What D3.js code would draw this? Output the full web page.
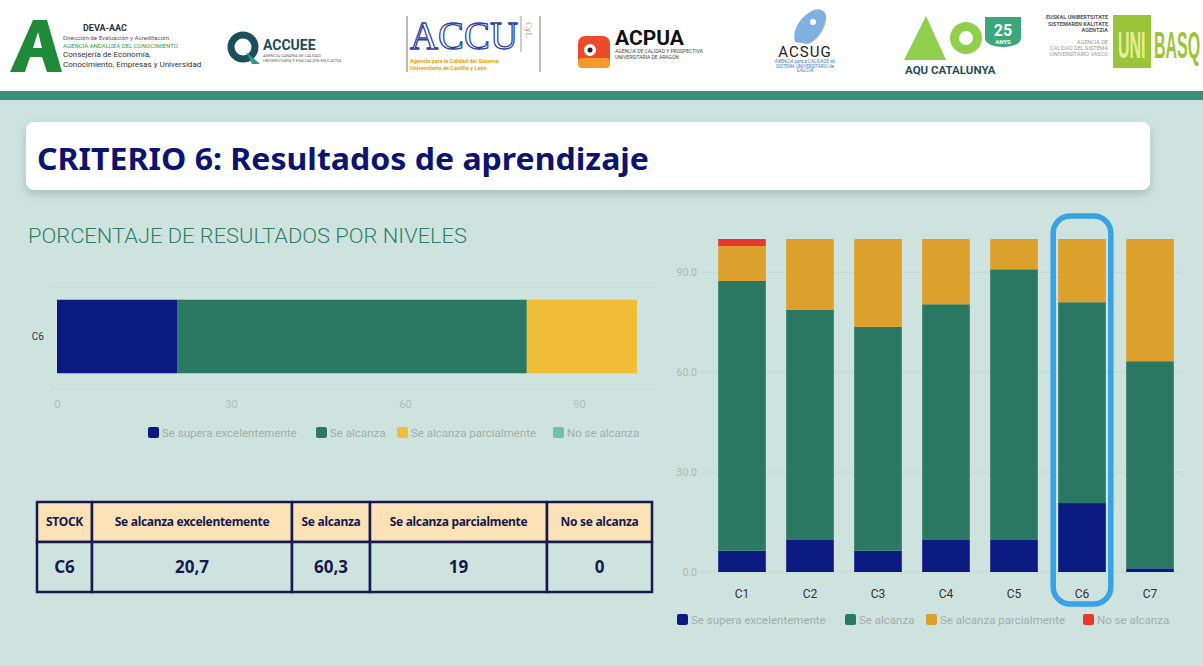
<!DOCTYPE html>
<html>
<head>
<meta charset="utf-8">
<script src="https://cdn.jsdelivr.net/npm/d3@7"></script>
<style>
  body { margin: 0; background: #cfe3de; }
  svg { display: block; font-family: Roboto, "Noto Sans", sans-serif; }
</style>
</head>
<body>
<svg id="chart" width="1203" height="666"></svg>
<script>
// datos
const criterios = ["C1", "C2", "C3", "C4", "C5", "C6", "C7"];
const superaExc = [6.4, 9.8, 6.4, 9.8, 9.8, 20.7, 1.1];
const seAlcanza = [81.0, 69.0, 67.2, 70.6, 81.1, 60.3, 62.2];
const parcial = [10.5, 21.2, 26.4, 19.6, 9.1, 19.0, 36.7];
const noAlcanza = [2.1, 0, 0, 0, 0, 0, 0];
const niveles = ["Se supera excelentemente", "Se alcanza", "Se alcanza parcialmente", "No se alcanza"];
const ticksIzq = [0, 30, 60, 90];
const ticksDer = [0, 30, 60, 90];
const tablaCabecera = ["STOCK", "Se alcanza excelentemente", "Se alcanza", "Se alcanza parcialmente", "No se alcanza"];
const tablaFila = ["C6", "20,7", "60,3", "19", "0"];
const destacado = "C6";

const keys = ["exc", "alc", "par", "no"];
const coloresIzq = ["#0b1a80", "#2a7862", "#f0bd37", "#6cc4a4"];
const coloresDer = ["#0b1a80", "#2a7862", "#dca02c", "#e8372f"];

const rows = criterios.map((c, i) => ({
  c: c, exc: superaExc[i], alc: seAlcanza[i], par: parcial[i], no: noAlcanza[i]
}));

const svg = d3.select("#chart");

// ---------- cabecera con logos ----------
svg.append("rect").attr("width", 1203).attr("height", 91).attr("fill", "#fff");
svg.append("rect").attr("y", 91).attr("width", 1203).attr("height", 9).attr("fill", "#3a8f78");

const hdr = svg.append("g");
// DEVA-AAC
hdr.append("path").attr("d", "M10,72 L33,20 L47,20 L62,72 L47,72 L42,57 L30,57 L25,72 Z").attr("fill", "#1f8a3a");
hdr.append("path").attr("d", "M33,48 L38,32 L42,48 Z").attr("fill", "#fff");
hdr.append("text").attr("x", 105).attr("y", 31).attr("text-anchor", "middle")
  .attr("font-size", 9).attr("font-weight", "bold").attr("fill", "#333").text("DEVA-AAC");
[["Dirección de Evaluación y Acreditación", "#555", 6.2, 40],
 ["AGENCIA ANDALUZA DEL CONOCIMIENTO", "#2e9a48", 6, 48],
 ["Consejería de Economía,", "#333", 8, 57],
 ["Conocimiento, Empresas y Universidad", "#333", 8, 67]].forEach(t => {
  hdr.append("text").attr("x", 63).attr("y", t[3]).attr("font-size", t[2])
    .attr("fill", t[1]).text(t[0]);
});
// ACCUEE
hdr.append("circle").attr("cx", 243).attr("cy", 47).attr("r", 12)
  .attr("fill", "none").attr("stroke", "#1c4e5c").attr("stroke-width", 7);
hdr.append("path").attr("d", "M246,52 L260,64 L252,64 Z").attr("fill", "#2b9a7e");
hdr.append("text").attr("x", 263).attr("y", 50).attr("font-size", 14).attr("font-weight", "bold")
  .attr("fill", "#1c4e5c").text("ACCUEE");
hdr.append("text").attr("x", 263).attr("y", 57).attr("font-size", 4).attr("fill", "#666")
  .text("AGENCIA CANARIA DE CALIDAD");
hdr.append("text").attr("x", 263).attr("y", 62).attr("font-size", 4).attr("fill", "#666")
  .text("UNIVERSITARIA Y EVALUACIÓN EDUCATIVA");
// ACCU
hdr.append("line").attr("x1", 407).attr("x2", 407).attr("y1", 16).attr("y2", 72).attr("stroke", "#777");
hdr.append("line").attr("x1", 540).attr("x2", 540).attr("y1", 16).attr("y2", 72).attr("stroke", "#777");
hdr.append("line").attr("x1", 521).attr("x2", 521).attr("y1", 16).attr("y2", 52).attr("stroke", "#999");
hdr.append("text").attr("x", 410).attr("y", 49).attr("font-size", 40).attr("font-family", "Liberation Serif")
  .attr("fill", "none").attr("stroke", "#2d3f9e").attr("stroke-width", 1.3).attr("textLength", 108)
  .attr("lengthAdjust", "spacingAndGlyphs").text("ACCU");
hdr.append("text").attr("transform", "translate(526,22) rotate(90)").attr("font-size", 9)
  .attr("font-family", "Liberation Serif").attr("fill", "#b59a2a").text("CyL");
hdr.append("text").attr("x", 410).attr("y", 63).attr("font-size", 5.5).attr("font-weight", "bold")
  .attr("fill", "#e5a400").text("Agencia para la Calidad del Sistema");
hdr.append("text").attr("x", 410).attr("y", 70).attr("font-size", 5.5).attr("font-weight", "bold")
  .attr("fill", "#e5a400").text("Universitario de Castilla y León");
// ACPUA
hdr.append("rect").attr("x", 578).attr("y", 36).attr("width", 32).attr("height", 32).attr("rx", 7).attr("fill", "#ec4a2c");
hdr.append("rect").attr("x", 578).attr("y", 58).attr("width", 32).attr("height", 10).attr("rx", 4).attr("fill", "#f59a2a");
hdr.append("circle").attr("cx", 590).attr("cy", 50).attr("r", 6).attr("fill", "#fff");
hdr.append("circle").attr("cx", 590).attr("cy", 50).attr("r", 2.5).attr("fill", "#222");
hdr.append("text").attr("x", 615).attr("y", 45).attr("font-size", 21).attr("font-weight", "bold")
  .attr("fill", "#111").text("ACPUA");
hdr.append("text").attr("x", 615).attr("y", 53).attr("font-size", 5).attr("fill", "#444")
  .text("AGENCIA DE CALIDAD Y PROSPECTIVA");
hdr.append("text").attr("x", 615).attr("y", 59).attr("font-size", 5).attr("fill", "#444")
  .text("UNIVERSITARIA DE ARAGÓN");
// ACSUG
hdr.append("path").attr("d", "M795,42 C792,30 800,18 810,12 C818,6 828,10 826,20 C824,30 818,40 808,44 Z")
  .attr("fill", "#7fb0e0");
hdr.append("circle").attr("cx", 813).attr("cy", 22).attr("r", 3).attr("fill", "#fff");
hdr.append("text").attr("x", 805).attr("y", 57).attr("text-anchor", "middle").attr("font-size", 15)
  .attr("fill", "#222").attr("letter-spacing", 1).text("ACSUG");
["AXENCIA para a CALIDADE do", "SISTEMA UNIVERSITARIO de", "GALICIA"].forEach((t, i) => {
  hdr.append("text").attr("x", 805).attr("y", 63 + i * 4.5).attr("text-anchor", "middle")
    .attr("font-size", 4.5).attr("fill", "#3a7bd0").text(t);
});
// AQU Catalunya
hdr.append("path").attr("d", "M904,60 L926,16 L946,60 Z").attr("fill", "#8fcf4c");
hdr.append("circle").attr("cx", 966).attr("cy", 38).attr("r", 16).attr("fill", "#8fcf4c");
hdr.append("circle").attr("cx", 966).attr("cy", 38).attr("r", 7).attr("fill", "#fff");
hdr.append("path").attr("d", "M985,17 L1021,17 L1021,38 C1021,50 985,50 985,38 Z").attr("fill", "#3aa87a");
hdr.append("text").attr("x", 1003).attr("y", 36).attr("text-anchor", "middle").attr("font-size", 16)
  .attr("font-weight", "bold").attr("fill", "#fff").text("25");
hdr.append("text").attr("x", 1003).attr("y", 44).attr("text-anchor", "middle").attr("font-size", 6)
  .attr("font-weight", "bold").attr("fill", "#fff").text("ANYS");
hdr.append("text").attr("x", 905).attr("y", 74).attr("font-size", 11.5).attr("font-weight", "bold")
  .attr("fill", "#1f4f5a").text("AQU CATALUNYA");
// Unibasq
["EUSKAL UNIBERTSITATE", "SISTEMAREN KALITATE", "AGENTZIA"].forEach((t, i) => {
  hdr.append("text").attr("x", 1108).attr("y", 19 + i * 6.5).attr("text-anchor", "end")
    .attr("font-size", 5.5).attr("font-weight", "bold").attr("fill", "#555").text(t);
});
["AGENCIA DE", "CALIDAD DEL SISTEMA", "UNIVERSITARIO VASCO"].forEach((t, i) => {
  hdr.append("text").attr("x", 1108).attr("y", 44 + i * 6).attr("text-anchor", "end")
    .attr("font-size", 5.5).attr("fill", "#999").text(t);
});
hdr.append("rect").attr("x", 1113).attr("y", 15).attr("width", 38).attr("height", 53).attr("fill", "#9cc43a");
hdr.append("text").attr("transform", "translate(1118,58) scale(1,2.3)").attr("font-size", 16)
  .attr("font-weight", "bold").attr("font-family", "Liberation Sans").attr("fill", "#e4f08f").text("UNI");
hdr.append("text").attr("transform", "translate(1154,58) scale(1,2.3)").attr("font-size", 16)
  .attr("font-weight", "bold").attr("font-family", "Liberation Sans").attr("fill", "#9cc43a").text("BASQ");

// ---------- título ----------
const defs = svg.append("defs");
const f = defs.append("filter").attr("id", "sombra").attr("x", "-5%").attr("y", "-30%")
  .attr("width", "110%").attr("height", "170%");
f.append("feDropShadow").attr("dx", 0).attr("dy", 4).attr("stdDeviation", 5)
  .attr("flood-color", "#557a70").attr("flood-opacity", 0.35);
svg.append("rect").attr("x", 26).attr("y", 122).attr("width", 1124).attr("height", 68)
  .attr("rx", 8).attr("fill", "#fff").attr("filter", "url(#sombra)");
svg.append("text").attr("x", 37).attr("y", 170).attr("font-family", "'Noto Sans', sans-serif")
  .attr("font-size", 30).attr("font-weight", "bold").attr("fill", "#0d1470")
  .attr("textLength", 612).attr("lengthAdjust", "spacingAndGlyphs")
  .text("CRITERIO 6: Resultados de aprendizaje");

// ---------- gráfico horizontal (izquierda) ----------
svg.append("text").attr("x", 28).attr("y", 243).attr("font-size", 21).attr("font-weight", 300)
  .attr("fill", "#2f7f68").attr("textLength", 439).attr("lengthAdjust", "spacingAndGlyphs")
  .text("PORCENTAJE DE RESULTADOS POR NIVELES");

const idx = criterios.indexOf(destacado);
const filaIzq = [rows[idx]];
const xIzq = d3.scaleLinear().domain([0, 100]).range([57, 637]);
const yIzq = d3.scaleBand().domain(filaIzq.map(d => d.c)).range([287, 386]).paddingInner(0.25).paddingOuter(0.13);

const gIzq = svg.append("g");
[287, 389].forEach(y => {
  gIzq.append("line").attr("x1", 50).attr("x2", 655).attr("y1", y).attr("y2", y)
    .attr("stroke", "#c5dbd5").attr("stroke-width", 1);
});
const stackIzq = d3.stack().keys(keys)(filaIzq);
gIzq.selectAll(".capa").data(stackIzq).join("g").attr("fill", (d, i) => coloresIzq[i])
  .selectAll("rect").data(d => d).join("rect")
  .attr("x", d => xIzq(d[0]))
  .attr("width", d => xIzq(d[1]) - xIzq(d[0]))
  .attr("y", d => yIzq(d.data.c))
  .attr("height", yIzq.bandwidth());

const axIzqX = gIzq.append("g").attr("transform", "translate(0,395)")
  .call(d3.axisBottom(xIzq).tickValues(ticksIzq).tickSize(0).tickPadding(5));
axIzqX.select(".domain").remove();
axIzqX.selectAll("text").attr("font-size", 11).attr("fill", "#b0bcb8").attr("font-family", "Roboto");

const axIzqY = gIzq.append("g").attr("transform", "translate(44,0)")
  .call(d3.axisLeft(yIzq).tickSize(0).tickPadding(0));
axIzqY.select(".domain").remove();
axIzqY.selectAll("text").attr("font-size", 10).attr("fill", "#333").attr("font-family", "Roboto");

function leyenda(g, x0, y, colores, anchos) {
  let x = x0;
  niveles.forEach((n, i) => {
    g.append("rect").attr("x", x).attr("y", y - 6).attr("width", 11).attr("height", 11)
      .attr("rx", 2).attr("fill", colores[i]);
    g.append("text").attr("x", x + 14).attr("y", y + 4).attr("font-size", 11.5)
      .attr("fill", "#a2aeaa").text(n);
    x += anchos[i];
  });
}
leyenda(gIzq, 148, 433, coloresIzq, [168, 81, 156, 0]);

// ---------- tabla ----------
const colX = [37, 92, 292, 370, 547, 652];
const gTab = svg.append("g");
const filaY = [[502, 542], [542, 592]];
[tablaCabecera, tablaFila].forEach((fila, r) => {
  fila.forEach((t, c) => {
    const x0 = colX[c], x1 = colX[c + 1];
    const y0 = filaY[r][0], y1 = filaY[r][1];
    gTab.append("rect").attr("x", x0).attr("y", y0).attr("width", x1 - x0).attr("height", y1 - y0)
      .attr("fill", r === 0 ? "#fbe2b6" : "#cfe3de").attr("stroke", "#141a4f").attr("stroke-width", 2.5);
    gTab.append("text").attr("x", (x0 + x1) / 2).attr("y", (y0 + y1) / 2)
      .attr("text-anchor", "middle").attr("dy", "0.36em")
      .attr("font-family", "'Noto Sans', sans-serif").attr("font-weight", "bold")
      .attr("font-size", r === 0 ? 12 : 17).attr("fill", "#141a4f")
      .attr("letter-spacing", r === 0 ? -0.3 : 0).text(t);
  });
});

// ---------- gráfico de columnas (derecha) ----------
const xDer = d3.scaleBand().domain(criterios).range([708, 1184]).paddingInner(0.3).paddingOuter(0.15);
const yDer = d3.scaleLinear().domain([0, 100]).range([572, 239]);
const gDer = svg.append("g");

gDer.selectAll(".grid").data(ticksDer).join("line").attr("class", "grid")
  .attr("x1", 700).attr("x2", 1182).attr("y1", d => yDer(d)).attr("y2", d => yDer(d))
  .attr("stroke", "#c3d9d3");

const axDerY = gDer.append("g").attr("transform", "translate(699,0)")
  .call(d3.axisLeft(yDer).tickValues(ticksDer).tickFormat(d3.format(".1f")).tickSize(0).tickPadding(2));
axDerY.select(".domain").remove();
axDerY.selectAll("text").attr("font-size", 10.5).attr("fill", "#abb7b3").attr("font-family", "Roboto");

const stackDer = d3.stack().keys(keys)(rows);
gDer.selectAll(".capa").data(stackDer).join("g").attr("fill", (d, i) => coloresDer[i])
  .selectAll("rect").data(d => d).join("rect")
  .attr("x", d => xDer(d.data.c))
  .attr("width", xDer.bandwidth())
  .attr("y", d => yDer(d[1]))
  .attr("height", d => yDer(d[0]) - yDer(d[1]));

const axDerX = gDer.append("g").attr("transform", "translate(0,580)")
  .call(d3.axisBottom(xDer).tickSize(0).tickPadding(9));
axDerX.select(".domain").remove();
axDerX.selectAll("text").attr("font-size", 12).attr("fill", "#333").attr("font-family", "Roboto");

// marco de C6
gDer.append("rect")
  .attr("x", xDer(destacado) - 5).attr("y", 216)
  .attr("width", xDer.bandwidth() + 10).attr("height", 388)
  .attr("rx", 17).attr("fill", "none").attr("stroke", "#37a2e4").attr("stroke-width", 5.5);

leyenda(gDer, 677, 620, coloresDer, [168, 81, 157, 0]);
</script>
</body>
</html>
